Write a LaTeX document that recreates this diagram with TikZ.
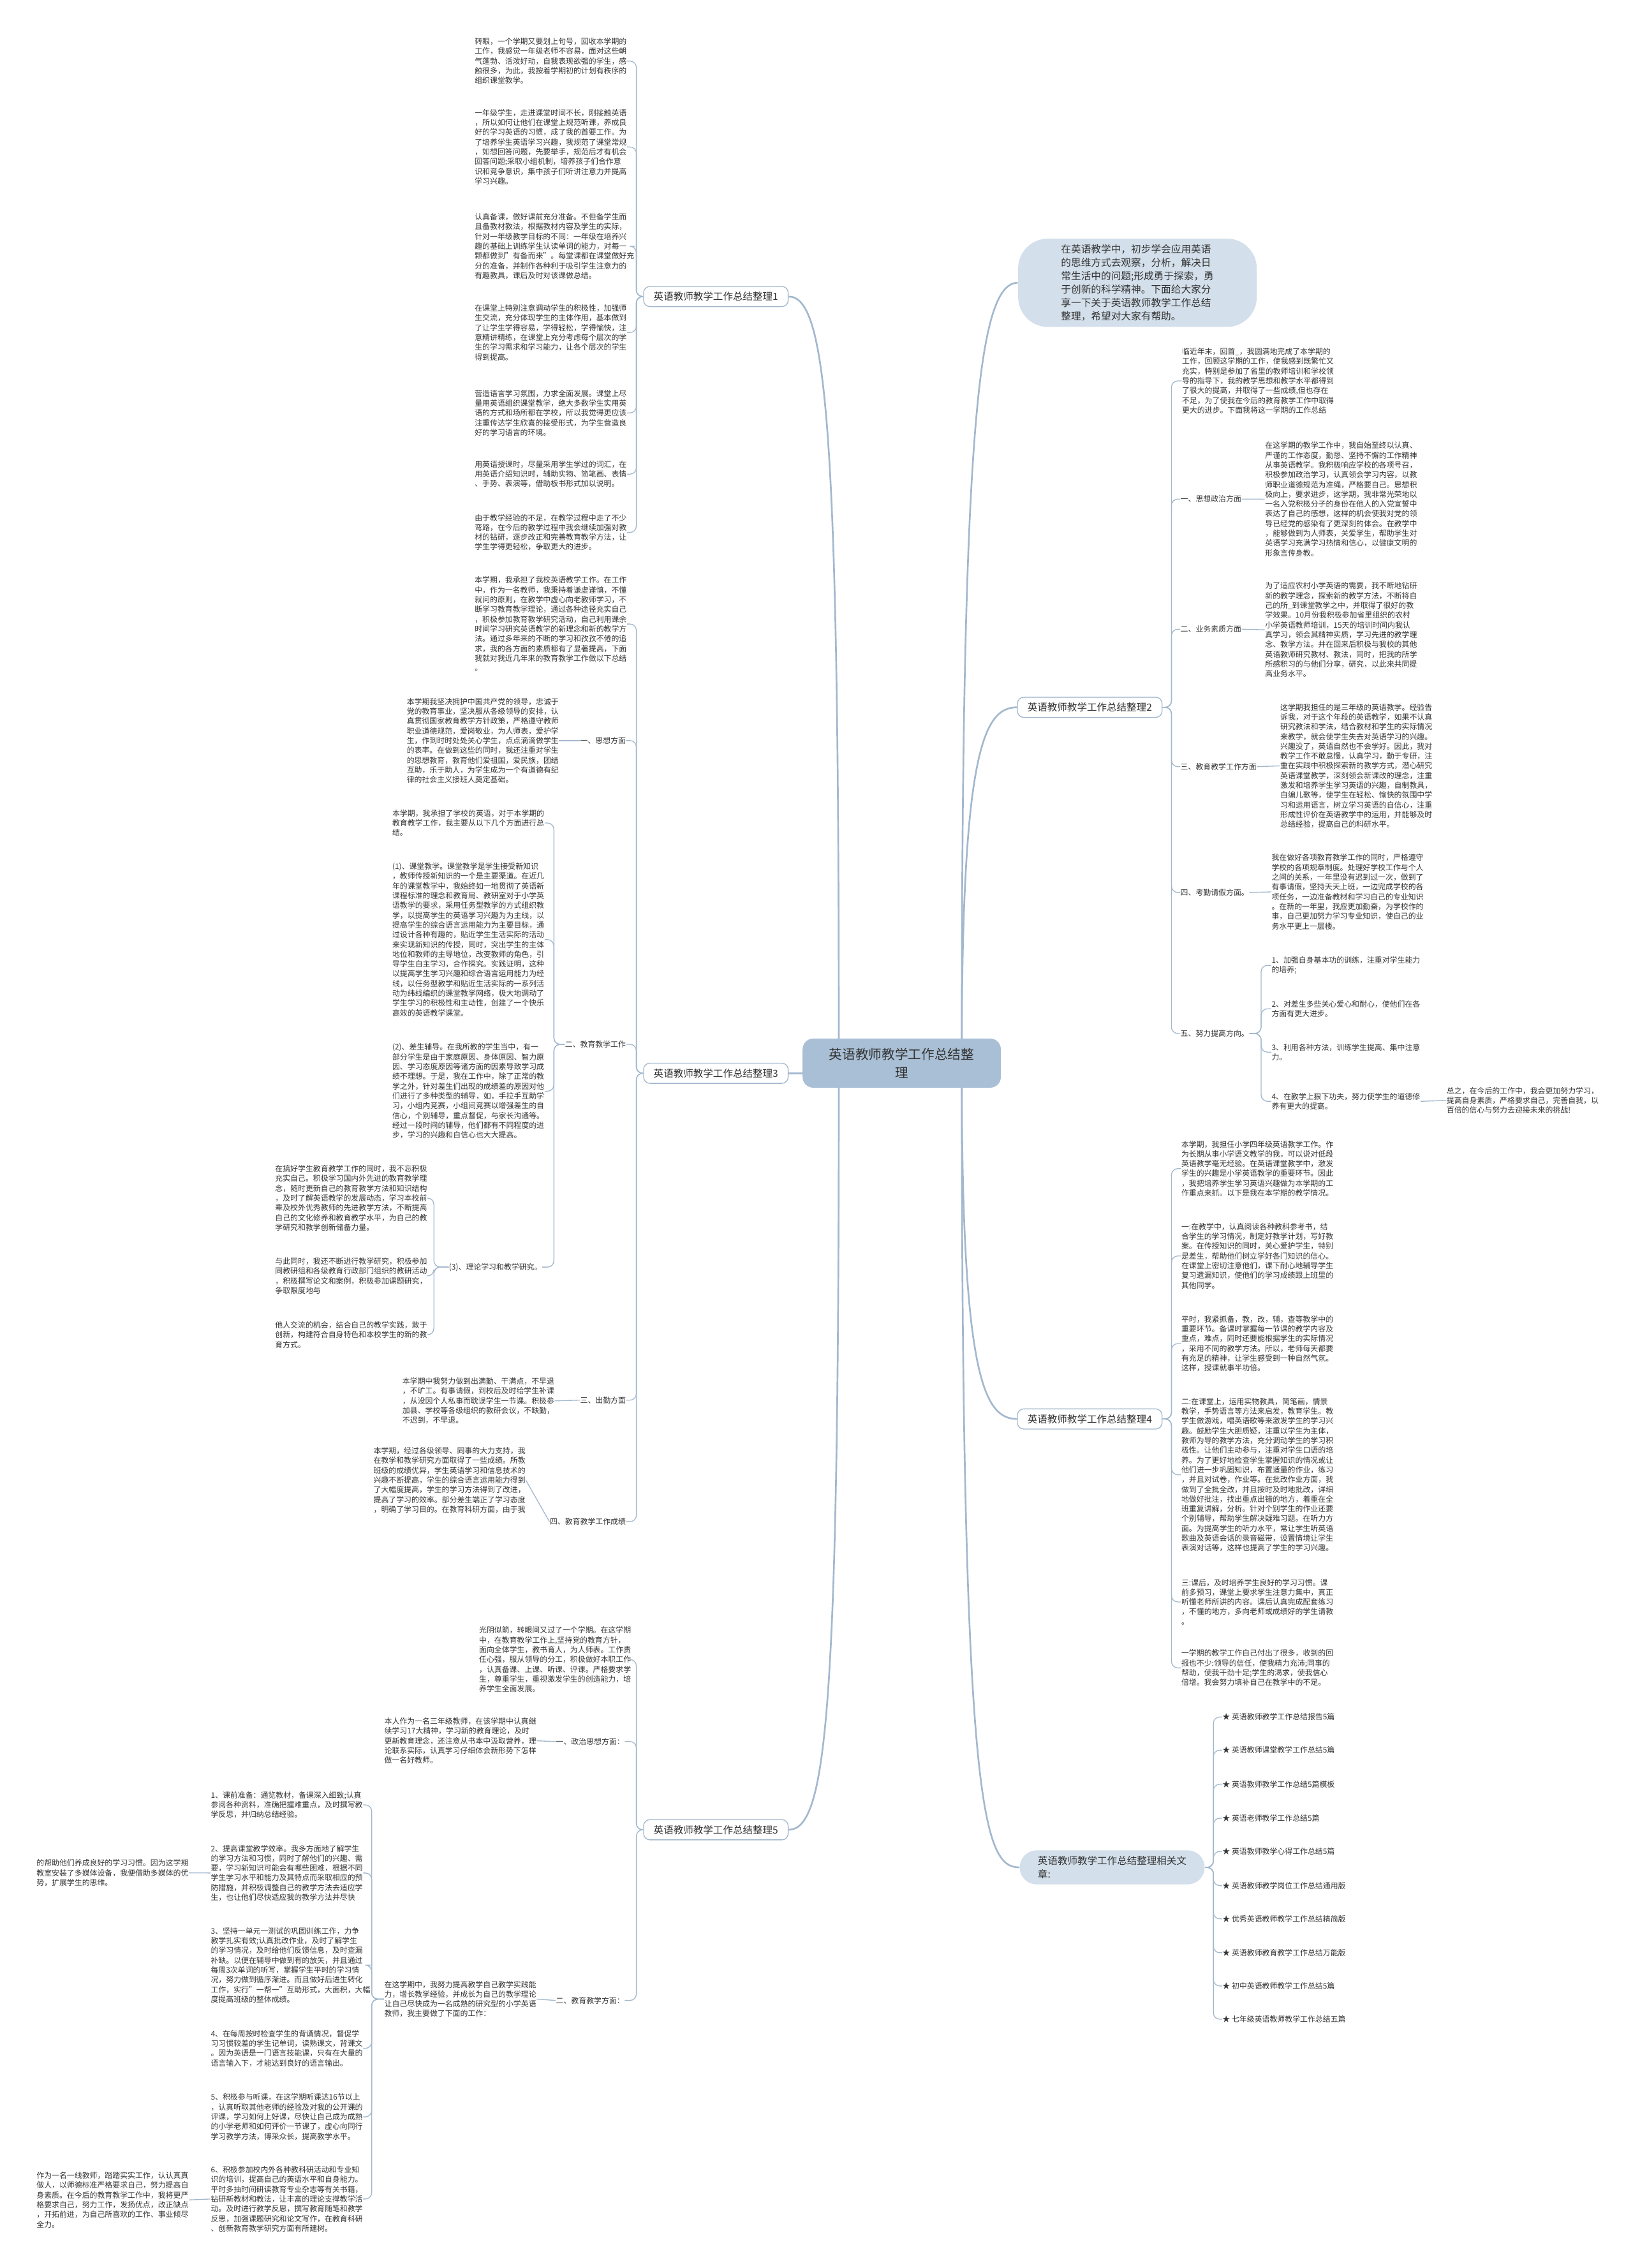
\documentclass[tikz,border=0pt]{standalone}
\usepackage{fontspec}
\setmainfont{Noto Sans CJK SC}
\usetikzlibrary{backgrounds}
\definecolor{lc}{HTML}{A3B8CD}
\definecolor{tc}{HTML}{333333}
\definecolor{cenfill}{HTML}{A9BFD5}
\definecolor{lightfill}{HTML}{D3DFEA}
\newcommand\ftxt{\fontsize{3.57pt}{4.59pt}\selectfont}
\newcommand\fbr{\fontsize{4.66pt}{6.2pt}\selectfont}
\newcommand\fcen{\fontsize{6.2pt}{8.6pt}\selectfont}
\newcommand\fint{\fontsize{4.7pt}{6.26pt}\selectfont}
\tikzset{
  txt/.style={font=\ftxt, align=left, inner sep=0pt, text=tc, anchor=west},
  lab/.style={font=\ftxt, inner sep=0pt, text=tc},
  brnode/.style={font=\fbr, text=tc, draw=lc, line width=0.4pt, fill=white, rounded corners=3pt, minimum width=68pt, minimum height=9.5pt, inner sep=1pt},
  conn/.style={draw=lc, line width=0.4pt, rounded corners=3pt},
  mainc/.style={draw=lc, line width=0.8pt},
}
\begin{document}
\begin{tikzpicture}[x=0.68pt,y=-0.68pt]
\useasboundingbox (0,0) rectangle (1129,1568);
% ---------------- centre and branch nodes
\node[fill=cenfill, rounded corners=5pt, minimum width=93.2pt, minimum height=23.1pt, font=\fcen, text=tc, align=center, inner sep=0pt] (cen) at (623.5,735) {英语教师教学工作总结整\\理};
\node[brnode] (B1) at (495,205) {英语教师教学工作总结整理1};
\node[brnode] (B3) at (495,742) {英语教师教学工作总结整理3};
\node[brnode] (B5) at (495,1265) {英语教师教学工作总结整理5};
\node[brnode] (B2) at (753.5,489) {英语教师教学工作总结整理2};
\node[brnode] (B4) at (753.5,981) {英语教师教学工作总结整理4};
\node[fill=lightfill, rounded corners=14pt, minimum width=112.2pt, minimum height=41.5pt, font=\fint, text=tc, align=left, inner sep=0pt] (intro) at (786.5,195.5) {在英语教学中，初步学会应用英语\\的思维方式去观察，分析，解决日\\常生活中的问题;形成勇于探索，勇\\于创新的科学精神。下面给大家分\\享一下关于英语教师教学工作总结\\整理，希望对大家有帮助。};
\node[fill=lightfill, rounded corners=8pt, minimum width=87pt, minimum height=16pt, font=\fbr, text=tc, align=left, inner sep=0pt] (rel) at (769,1291) {英语教师教学工作总结整理相关文\\章:};

% ---------------- branch 1
\node[txt] (t11) at (328,42.2) {转眼，一个学期又要划上句号，回收本学期的\\工作，我感觉一年级老师不容易，面对这些朝\\气蓬勃、活泼好动，自我表现欲强的学生，感\\触很多，为此，我按着学期初的计划有秩序的\\组织课堂教学。};
\node[txt] (t12) at (328,101.6) {一年级学生，走进课堂时间不长，刚接触英语\\，所以如何让他们在课堂上规范听课，养成良\\好的学习英语的习惯，成了我的首要工作。为\\了培养学生英语学习兴趣，我规范了课堂常规\\，如想回答问题，先要举手，规范后才有机会\\回答问题;采取小组机制，培养孩子们合作意\\识和竞争意识，集中孩子们听讲注意力并提高\\学习兴趣。};
\node[txt] (t13) at (328,170.3) {认真备课，做好课前充分准备。不但备学生而\\且备教材教法，根据教材内容及学生的实际，\\针对一年级教学目标的不同：一年级在培养兴\\趣的基础上训练学生认读单词的能力，对每一\\颗都做到"有备而来"。每堂课都在课堂做好充\\分的准备，并制作各种利于吸引学生注意力的\\有趣教具，课后及时对该课做总结。};
\node[txt] (t14) at (328,229.9) {在课堂上特别注意调动学生的积极性，加强师\\生交流，充分体现学生的主体作用，基本做到\\了让学生学得容易，学得轻松，学得愉快，注\\意精讲精练，在课堂上充分考虑每个层次的学\\生的学习需求和学习能力，让各个层次的学生\\得到提高。};
\node[txt] (t15) at (328,285.5) {营造语言学习氛围，力求全面发展。课堂上尽\\量用英语组织课堂教学，绝大多数学生实用英\\语的方式和场所都在学校，所以我觉得更应该\\注重传达学生欣喜的接受形式，为学生营造良\\好的学习语言的环境。};
\node[txt] (t16) at (328,327.8) {用英语授课时，尽量采用学生学过的词汇，在\\用英语介绍知识时，辅助实物、简笔画、表情\\、手势、表演等，借助板书形式加以说明。};
\node[txt] (t17) at (328,368.1) {由于教学经验的不足，在教学过程中走了不少\\弯路，在今后的教学过程中我会继续加强对教\\材的钻研，逐步改正和完善教育教学方法，让\\学生学得更轻松，争取更大的进步。};

% ---------------- branch 3
\node[txt] (t30) at (328,431.4) {本学期，我承担了我校英语教学工作。在工作\\中，作为一名教师，我秉持着谦虚谨慎，不懂\\就问的原则，在教学中虚心向老教师学习，不\\断学习教育教学理论，通过各种途径充实自己\\，积极参加教育教学研究活动，自己利用课余\\时间学习研究英语教学的新理念和新的教学方\\法。通过多年来的不断的学习和孜孜不倦的追\\求，我的各方面的素质都有了显著提高，下面\\我就对我近几年来的教育教学工作做以下总结\\。};
\node[lab, anchor=east] (l31) at (433,512) {一、思想方面};
\node[txt] (t31) at (281,512) {本学期我坚决拥护中国共产党的领导，忠诚于\\党的教育事业，坚决服从各级领导的安排，认\\真贯彻国家教育教学方针政策，严格遵守教师\\职业道德规范，爱岗敬业，为人师表，爱护学\\生，作到时时处处关心学生，点点滴滴做学生\\的表率。在做到这些的同时，我还注重对学生\\的思想教育，教育他们爱祖国，爱民族，团结\\互助，乐于助人，为学生成为一个有道德有纪\\律的社会主义接班人奠定基础。};
\node[lab, anchor=east] (l32) at (433,722) {二、教育教学工作};
\node[txt] (t32a) at (271,569) {本学期，我承担了学校的英语，对于本学期的\\教育教学工作，我主要从以下几个方面进行总\\结。};
\node[txt] (t32b) at (271,649.6) {(1)、课堂教学。课堂教学是学生接受新知识\\，教师传授新知识的一个是主要渠道。在近几\\年的课堂教学中，我始终如一地贯彻了英语新\\课程标准的理念和教育局、教研室对于小学英\\语教学的要求，采用任务型教学的方式组织教\\学，以提高学生的英语学习兴趣为为主线，以\\提高学生的综合语言运用能力为主要目标，通\\过设计各种有趣的，贴近学生生活实际的活动\\来实现新知识的传授，同时，突出学生的主体\\地位和教师的主导地位，改变教师的角色，引\\导学生自主学习，合作探究。实践证明，这种\\以提高学生学习兴趣和综合语言运用能力为经\\线，以任务型教学和贴近生活实际的一系列活\\动为纬线编织的课堂教学网络，极大地调动了\\学生学习的积极性和主动性，创建了一个快乐\\高效的英语教学课堂。};
\node[txt] (t32c) at (271,754.4) {(2)、差生辅导。在我所教的学生当中，有一\\部分学生是由于家庭原因、身体原因、智力原\\因、学习态度原因等诸方面的因素导致学习成\\绩不理想。于是，我在工作中，除了正常的教\\学之外，针对差生们出现的成绩差的原因对他\\们进行了多种类型的辅导，如，手拉手互助学\\习，小组内竞赛，小组间竞赛以增强差生的自\\信心，个别辅导，重点督促，与家长沟通等。\\经过一段时间的辅导，他们都有不同程度的进\\步，学习的兴趣和自信心也大大提高。};
\node[lab, anchor=east] (l32d) at (375,876) {(3)、理论学习和教学研究。};
\node[txt] (t33a) at (190,828.3) {在搞好学生教育教学工作的同时，我不忘积极\\充实自己。积极学习国内外先进的教育教学理\\念，随时更新自己的教育教学方法和知识结构\\，及时了解英语教学的发展动态，学习本校前\\辈及校外优秀教师的先进教学方法，不断提高\\自己的文化修养和教育教学水平，为自己的教\\学研究和教学创新储备力量。};
\node[txt] (t33b) at (190,882.1) {与此同时，我还不断进行教学研究，积极参加\\同教研组和各级教育行政部门组织的教研活动\\，积极撰写论文和案例，积极参加课题研究，\\争取限度地与};
\node[txt] (t33c) at (190,922.8) {他人交流的机会，结合自己的教学实践，敢于\\创新，构建符合自身特色和本校学生的新的教\\育方式。};
\node[lab, anchor=east] (l33) at (433,968) {三、出勤方面};
\node[txt] (t33) at (278,968.5) {本学期中我努力做到出满勤、干满点，不早退\\，不旷工。有事请假，到校后及时给学生补课\\，从没因个人私事而耽误学生一节课。积极参\\加县、学校等各级组织的教研会议，不缺勤，\\不迟到，不早退。};
\node[lab, anchor=east] (l34) at (433,1052) {四、教育教学工作成绩};
\node[txt] (t34) at (258,1023.3) {本学期，经过各级领导、同事的大力支持，我\\在教学和教学研究方面取得了一些成绩。所教\\班级的成绩优异，学生英语学习和信息技术的\\兴趣不断提高，学生的综合语言运用能力得到\\了大幅度提高，学生的学习方法得到了改进，\\提高了学习的效率。部分差生端正了学习态度\\，明确了学习目的。在教育科研方面，由于我};

% ---------------- branch 5
\node[txt] (t50) at (331,1147.3) {光阴似箭，转眼间又过了一个学期。在这学期\\中，在教育教学工作上,坚持党的教育方针，\\面向全体学生，教书育人，为人师表。工作责\\任心强，服从领导的分工，积极做好本职工作\\，认真备课、上课、听课、评课。严格要求学\\生，尊重学生，重视激发学生的创造能力，培\\养学生全面发展。};
\node[lab, anchor=east] (l51) at (432,1204) {一、政治思想方面：};
\node[txt] (t51) at (265.5,1203.5) {本人作为一名三年级教师，在该学期中认真继\\续学习17大精神，学习新的教育理论，及时\\更新教育理念，还注意从书本中汲取营养，理\\论联系实际，认真学习仔细体会新形势下怎样\\做一名好教师。};
\node[lab, anchor=east] (l52) at (432,1383) {二、教育教学方面：};
\node[txt] (t52) at (265.5,1382.1) {在这学期中，我努力提高教学自己教学实践能\\力，增长教学经验，并成长为自己的教学理论\\让自己尽快成为一名成熟的研究型的小学英语\\教师，我主要做了下面的工作：};
\node[txt] (i1) at (145.5,1247.8) {1、课前准备：通览教材，备课深入细致;认真\\参阅各种资料，准确把握难重点，及时撰写教\\学反思，并归纳总结经验。};
\node[txt] (i2) at (145.5,1294.9) {2、提高课堂教学效率。我多方面地了解学生\\的学习方法和习惯，同时了解他们的兴趣、需\\要，学习新知识可能会有哪些困难，根据不同\\学生学习水平和能力及其特点而采取相应的预\\防措施，并积极调整自己的教学方法去适应学\\生，也让他们尽快适应我的教学方法并尽快};
\node[txt] (i2c) at (25,1294.8) {的帮助他们养成良好的学习习惯。因为这学期\\教室安装了多媒体设备，我便借助多媒体的优\\势，扩展学生的思维。};
\node[txt] (i3) at (145.5,1358.6) {3、坚持一单元一测试的巩固训练工作，力争\\教学扎实有效;认真批改作业，及时了解学生\\的学习情况，及时给他们反馈信息，及时查漏\\补缺。以便在辅导中做到有的放矢，并且通过\\每周3次单词的听写，掌握学生平时的学习情\\况，努力做到循序渐进。而且做好后进生转化\\工作，实行"一帮一"互助形式，大面积，大幅\\度提高班级的整体成绩。};
\node[txt] (i4) at (145.5,1416.1) {4、在每周按时检查学生的背诵情况，督促学\\习习惯较差的学生记单词，读熟课文，背课文\\。因为英语是一门语言技能课，只有在大量的\\语言输入下，才能达到良好的语言输出。};
\node[txt] (i5) at (145.5,1463.5) {5、积极参与听课，在这学期听课达16节以上\\，认真听取其他老师的经验及对我的公开课的\\评课，学习如何上好课，尽快让自己成为成熟\\的小学老师和如何评价一节课了，虚心向同行\\学习教学方法，博采众长，提高教学水平。};
\node[txt] (i6) at (145.5,1520.3) {6、积极参加校内外各种教科研活动和专业知\\识的培训，提高自己的英语水平和自身能力。\\平时多抽时间研读教育专业杂志等有关书籍，\\钻研新教材和教法，让丰富的理论支撑教学活\\动。及时进行教学反思，撰写教育随笔和教学\\反思，加强课题研究和论文写作，在教育科研\\、创新教育教学研究方面有所建树。};
\node[txt] (i6c) at (25,1520.9) {作为一名一线教师，踏踏实实工作，认认真真\\做人，以师德标准严格要求自己，努力提高自\\身素质。在今后的教育教学工作中，我将更严\\格要求自己，努力工作，发扬优点，改正缺点\\，开拓前进，为自己所喜欢的工作、事业倾尽\\全力。};

% ---------------- branch 2
\node[txt] (t20) at (817,263.3) {临近年末，回首\_，我圆满地完成了本学期的\\工作，回顾这学期的工作，使我感到既繁忙又\\充实，特别是参加了省里的教师培训和学校领\\导的指导下，我的教学思想和教学水平都得到\\了很大的提高，并取得了一些成绩,但也存在\\不足，为了使我在今后的教育教学工作中取得\\更大的进步。下面我将这一学期的工作总结};
\node[lab, anchor=west] (l21) at (816,345) {一、思想政治方面};
\node[txt] (t21) at (874.5,345.1) {在这学期的教学工作中，我自始至终以认真、\\严谨的工作态度，勤恳、坚持不懈的工作精神\\从事英语教学。我积极响应学校的各项号召，\\积极参加政治学习，认真领会学习内容，以教\\师职业道德规范为准绳，严格要自己。思想积\\极向上，要求进步，这学期，我非常光荣地以\\一名入党积极分子的身份在他人的入党宣誓中\\表达了自己的感想，这样的机会使我对党的领\\导已经党的感染有了更深刻的体会。在教学中\\，能够做到为人师表，关爱学生，帮助学生对\\英语学习充满学习热情和信心，以健康文明的\\形象言传身教。};
\node[lab, anchor=west] (l22) at (816,435) {二、业务素质方面};
\node[txt] (t22) at (874.5,435.4) {为了适应农村小学英语的需要，我不断地钻研\\新的教学理念，探索新的教学方法，不断将自\\己的所\_到课堂教学之中，并取得了很好的教\\学效果。10月份我积极参加省里组织的农村\\小学英语教师培训，15天的培训时间内我认\\真学习，领会其精神实质，学习先进的教学理\\念、教学方法。并在回来后积极与我校的其他\\英语教师研究教材、教法，同时，把我的所学\\所感积习的与他们分享，研究，以此来共同提\\高业务水平。};
\node[lab, anchor=west] (l23) at (816,530) {三、教育教学工作方面};
\node[txt] (t23) at (885,529.5) {这学期我担任的是三年级的英语教学。经验告\\诉我，对于这个年段的英语教学，如果不认真\\研究教法和学法，结合教材和学生的实际情况\\来教学，就会使学生失去对英语学习的兴趣。\\兴趣没了，英语自然也不会学好。因此，我对\\教学工作不敢怠慢，认真学习，勤于专研，注\\重在实践中积极探索新的教学方式，潜心研究\\英语课堂教学，深刻领会新课改的理念，注重\\激发和培养学生学习英语的兴趣，自制教具，\\自编儿歌等，使学生在轻松、愉快的氛围中学\\习和运用语言，树立学习英语的自信心，注重\\形成性评价在英语教学中的运用，并能够及时\\总结经验，提高自己的科研水平。};
\node[lab, anchor=west] (l24) at (816,617) {四、考勤请假方面。};
\node[txt] (t24) at (879,616.6) {我在做好各项教育教学工作的同时，严格遵守\\学校的各项规章制度。处理好学校工作与个人\\之间的关系，一年里没有迟到过一次，做到了\\有事请假，坚持天天上班，一边完成学校的各\\项任务，一边准备教材和学习自己的专业知识\\。在新的一年里，我应更加勤奋，为学校作的\\事，自己更加努力学习专业知识，使自己的业\\务水平更上一层楼。};
\node[lab, anchor=west] (l25) at (816,714.5) {五、努力提高方向。};
\node[txt] (f1) at (879,667.4) {1、加强自身基本功的训练，注重对学生能力\\的培养;};
\node[txt] (f2) at (879,697.4) {2、对差生多些关心爱心和耐心，使他们在各\\方面有更大进步。};
\node[txt] (f3) at (879,727.4) {3、利用各种方法，训练学生提高、集中注意\\力。};
\node[txt] (f4) at (879,761.4) {4、在教学上狠下功夫，努力使学生的道德修\\养有更大的提高。};
\node[txt] (f4c) at (1000,760.8) {总之，在今后的工作中，我会更加努力学习，\\提高自身素质，严格要求自己，完善自我，以\\百倍的信心与努力去迎接未来的挑战!};

% ---------------- branch 4
\node[txt] (t41) at (816.6,807.9) {本学期，我担任小学四年级英语教学工作。作\\为长期从事小学语文教学的我，可以说对低段\\英语教学毫无经验。在英语课堂教学中，激发\\学生的兴趣是小学英语教学的重要环节。因此\\，我把培养学生学习英语兴趣做为本学期的工\\作重点来抓。以下是我在本学期的教学情况。};
\node[txt] (t42) at (816.6,868.3) {一:在教学中，认真阅读各种教科参考书，结\\合学生的学习情况，制定好教学计划，写好教\\案。在传授知识的同时，关心爱护学生，特别\\是差生，帮助他们树立学好各门知识的信心。\\在课堂上密切注意他们，课下耐心地辅导学生\\复习遗漏知识，使他们的学习成绩跟上班里的\\其他同学。};
\node[txt] (t43) at (816.6,928.9) {平时，我紧抓备，教，改，辅，查等教学中的\\重要环节。备课时掌握每一节课的教学内容及\\重点，难点，同时还要能根据学生的实际情况\\，采用不同的教学方法。所以，老师每天都要\\有充足的精神，让学生感受到一种自然气氛。\\这样，授课就事半功倍。};
\node[txt] (t44) at (816.6,1019.6) {二:在课堂上，运用实物教具，简笔画，情景\\教学，手势语言等方法来启发，教育学生。教\\学生做游戏，唱英语歌等来激发学生的学习兴\\趣。鼓励学生大胆质疑，注重以学生为主体，\\教师为导的教学方法，充分调动学生的学习积\\极性。让他们主动参与，注重对学生口语的培\\养。为了更好地检查学生掌握知识的情况或让\\他们进一步巩固知识，布置适量的作业，练习\\，并且对试卷，作业等。在批改作业方面，我\\做到了全批全改，并且按时及时地批改，详细\\地做好批注，找出重点出错的地方，着重在全\\班重复讲解，分析。针对个别学生的作业还要\\个别辅导，帮助学生解决疑难习题。在听力方\\面。为提高学生的听力水平，常让学生听英语\\歌曲及英语会话的录音磁带，设置情境让学生\\表演对话等，这样也提高了学生的学习兴趣。};
\node[txt] (t45) at (816.6,1107.5) {三:课后，及时培养学生良好的学习习惯。课\\前多预习，课堂上要求学生注意力集中，真正\\听懂老师所讲的内容。课后认真完成配套练习\\，不懂的地方，多向老师或成绩好的学生请教\\。};
\node[txt] (t46) at (816.6,1153.1) {一学期的教学工作自己付出了很多，收到的回\\报也不少:领导的信任，使我精力充沛;同事的\\帮助，使我干劲十足;学生的渴求，使我信心\\倍增。我会努力填补自己在教学中的不足。};

% ---------------- related
\foreach \k/\yy/\tt in {1/1187/英语教师教学工作总结报告5篇, 2/1210/英语教师课堂教学工作总结5篇, 3/1233.5/英语教师教学工作总结5篇模板, 4/1257/英语老师教学工作总结5篇, 5/1280/英语教师教学心得工作总结5篇, 6/1303.6/英语教师教学岗位工作总结通用版, 7/1326.6/优秀英语教师教学工作总结精简版, 8/1350/英语教师教育教学工作总结万能版, 9/1373/初中英语教师教学工作总结5篇, 10/1396/七年级英语教师教学工作总结五篇}
  {\node[txt] (r\k) at (845,\yy) {★ \tt};}

% ---------------- connectors
\begin{pgfonlayer}{background}
\draw[mainc] (580,730) .. controls (580,300) and (572,205) .. (B1.east);
\draw[mainc] (B3.east) -- (cen.west |- B3.east);
\draw[mainc] (580,740) .. controls (580,1180) and (572,1265) .. (B5.east);
\draw[mainc] (665,730) .. controls (665,300) and (676,195.5) .. (intro.west);
\draw[mainc] (665,730) .. controls (665,520) and (680,489) .. (B2.west);
\draw[mainc] (665,740) .. controls (665,950) and (680,981) .. (B4.west);
\draw[mainc] (665,740) .. controls (665,1250) and (680,1291) .. (rel.west);
% branch 1
\foreach \c in {t11,t12,t13,t14,t15,t16,t17}
  \draw[conn] (B1.west) -- (440,205) |- (\c.east);
% branch 3
\foreach \c in {t30,l31,l32,l33,l34}
  \draw[conn] (B3.west) -- (440,742) |- (\c.east);
\draw[conn] (t31.east) -- (l31.west);
\foreach \c in {t32a,t32b,t32c,l32d}
  \draw[conn] (l32.west) -- (383,722) |- (\c.east);
\foreach \c in {t33a,t33b,t33c}
  \draw[conn] (l32d.west) -- (300,876) |- (\c.east);
\draw[conn] (t33.east) -- (l33.west);
\draw[conn] (t34.east) -- (l34.west);
% branch 5
\foreach \c in {t50,l51,l52}
  \draw[conn] (B5.west) -- (440,1265) |- (\c.east);
\draw[conn] (t51.east) -- (l51.west);
\draw[conn] (t52.east) -- (l52.west);
\foreach \c in {i1,i2,i3,i4,i5,i6}
  \draw[conn] (t52.west) -- (257,1382.1) |- (\c.east);
\draw[conn] (i2c.east) -- (i2.west);
\draw[conn] (i6c.east) -- (i6.west);
% branch 2
\foreach \c in {t20,l21,l22,l23,l24,l25}
  \draw[conn] (B2.east) -- (810,489) |- (\c.west);
\draw[conn] (l21.east) -- (t21.west);
\draw[conn] (l22.east) -- (t22.west);
\draw[conn] (l23.east) -- (t23.west);
\draw[conn] (l24.east) -- (t24.west);
\foreach \c in {f1,f2,f3,f4}
  \draw[conn] (l25.east) -- (872,714.5) |- (\c.west);
\draw[conn] (f4.east) -- (f4c.west);
% branch 4
\foreach \c in {t41,t42,t43,t44,t45,t46}
  \draw[conn] (B4.east) -- (810,981) |- (\c.west);
% related
\foreach \k in {1,...,10}
  \draw[conn] (rel.east) -- (839,1291) |- (r\k.west);
\end{pgfonlayer}
\end{tikzpicture}
\end{document}
